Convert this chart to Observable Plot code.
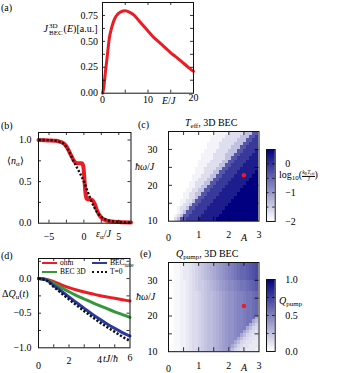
<!DOCTYPE html>
<html><head><meta charset="utf-8">
<script src="https://cdn.jsdelivr.net/npm/d3@7"></script>
<script src="https://cdn.jsdelivr.net/npm/@observablehq/plot@0.6"></script>
<style>
body{margin:0;background:#fff}
#fig{position:relative;width:337px;height:373px;overflow:hidden;font-family:"Liberation Serif","Times New Roman",serif;font-size:10px;color:#000;background:#fff}
.t{position:absolute;white-space:nowrap;line-height:1}
.t sub{font-size:0.7em;vertical-align:-0.3em;line-height:0}
.ss{display:inline-flex;flex-direction:column;font-size:7px;line-height:7px;vertical-align:middle;margin:0 1px}
.frac{display:inline-flex;flex-direction:column;font-size:5.6px;line-height:5.6px;vertical-align:middle;text-align:center}
.frac>span:first-child{border-bottom:0.6px solid #000}
</style></head>
<body><div id="fig"></div>
<script>
// ---------- DATA ----------
// (a) J_BEC^3D(E)
const energy = [0, 0.3, 0.6, 1, 1.5, 2, 2.5, 3, 4, 5, 6, 7, 8, 9, 10, 11, 12.5, 14, 15, 16, 17.5, 19, 20];
const jBEC   = [0, 0.06, 0.19, 0.34, 0.53, 0.63, 0.70, 0.745, 0.785, 0.795, 0.78, 0.75, 0.70, 0.65, 0.60, 0.55, 0.49, 0.43, 0.39, 0.355, 0.30, 0.245, 0.21];
// (b) occupations
const epsRed = [-6.5,-5,-4,-3.5,-3,-2.7,-2.4,-2.1,-1.8,-1.5,-1.2,-0.9,-0.6,-0.3,-0.1,0,0.1,0.2,0.3,0.45,0.7,1.0,1.3,1.6,1.9,2.2,2.6,3,3.5,4,5,6.75];
const nRed   = [1.0,0.995,0.99,0.98,0.965,0.945,0.91,0.86,0.81,0.76,0.73,0.72,0.72,0.72,0.69,0.62,0.50,0.39,0.32,0.29,0.285,0.285,0.27,0.22,0.15,0.10,0.06,0.04,0.027,0.02,0.013,0.008];
const epsFermi = [-6.5,-5,-4,-3.5,-3,-2.5,-2,-1.5,-1,-0.5,0,0.5,1,1.5,2,2.5,3,3.5,4,5,6.75];
const nFermi   = [1.0,0.998,0.99,0.98,0.96,0.915,0.84,0.75,0.67,0.59,0.5,0.39,0.28,0.19,0.12,0.075,0.05,0.035,0.025,0.015,0.008];
// (d) pumped charge
const tVals   = [0, 0.5, 1, 1.5, 2, 2.5, 3, 3.5, 4, 4.5, 5, 5.5, 6];
const qOhm    = [0, -0.01, -0.045, -0.09, -0.13, -0.165, -0.195, -0.22, -0.245, -0.265, -0.285, -0.305, -0.325];
const qBEC3D  = [0, -0.015, -0.07, -0.13, -0.19, -0.245, -0.295, -0.345, -0.39, -0.435, -0.48, -0.52, -0.56];
const qTube   = [0, -0.02, -0.1, -0.18, -0.265, -0.35, -0.43, -0.51, -0.585, -0.655, -0.72, -0.78, -0.83];
const qT0     = [0, -0.025, -0.12, -0.21, -0.30, -0.385, -0.47, -0.55, -0.63, -0.70, -0.77, -0.84, -0.9];
// heat-map grid (A columns, hbar*omega/J rows)
const aCols = [0,0.1,0.2,0.3,0.4,0.5,0.6,0.7,0.8,0.9,1.0,1.1,1.2,1.3,1.4,1.5,1.6,1.7,1.8,1.9,2.0,2.1,2.2,2.3,2.4,2.5,2.6,2.7,2.8,2.9];
const omegaRows = [10,11,12,13,14,15,16,17,18,19,20,21,22,23,24,25,26,27,28,29,30,31,32,33,34];
const aStep = 0.1, omegaStep = 1;
// (c) log10(kB Teff/J): one string per row (omega=10 first), char = level index
const tEffLevels = [-2, -1.88, -1.68, -1.38, -0.89, -0.61, -0.33, -0.06, 0.22, 0.5];
const tEffRows = [
  "0023" + "667777888888" + "99999999999999",
  "00123" + "667777888888" + "9999999999999",
  "000123" + "667777888888" + "999999999999",
  "0001223" + "667777888888" + "99999999999",
  "00001223" + "667777888888" + "9999999999",
  "000011223" + "667777888888" + "999999999",
  "0000011223" + "667777888888" + "99999999",
  "00000" + "112233" + "667777888888" + "9999999",
  "000000" + "112233" + "667777888888" + "999999",
  "0000000" + "112233" + "667777888888" + "99999",
  "0000000" + "1122233" + "667777888888" + "9999",
  "00000000" + "1122233" + "667777888888" + "999",
  "00000000" + "11122233" + "667777888888" + "99",
  "000000000" + "11122233" + "667777888888" + "9",
  "000000000" + "111222233" + "667777888888",
  "0000000000" + "111222233" + "66777788888",
  "0000000000" + "1111222233" + "6677778888",
  "00000000000" + "1111222233" + "667777888",
  "00000000000" + "11112222333" + "66777788",
  "000000000000" + "11112222333" + "6677778",
  "0000000000000" + "11112222333" + "667777",
  "0000000000000" + "111122222333" + "66777",
  "00000000000000" + "111122222333" + "6677",
  "00000000000000" + "1111122222333" + "667",
  "000000000000000" + "1111122222333" + "66"
];
// (e) Q_pump: base-36 level per cell, Q = level/35
const qPumpRows = [
  "0011223455" + "67899abcde" + "c965443332",
  "0011223455" + "67899abcde" + "f" + "c96544333",
  "0011223455" + "67899abcde" + "ff" + "c9654433",
  "0011223455" + "67899abcde" + "ffg" + "c965443",
  "0011223455" + "67899abcde" + "ffgh" + "c96544",
  "0011223455" + "67899abcde" + "ffghh" + "c9654",
  "0011223455" + "67899abcde" + "ffghhi" + "c965",
  "0011223455" + "67899abcde" + "ffghhij" + "c96",
  "0011223455" + "67899abcde" + "ffghhijj" + "c9",
  "0011223455" + "67899abcde" + "ffghhijjk" + "c",
  "0011223455" + "67899abcde" + "ffghhijjkl",
  "0011223455" + "67899abcde" + "ffghhijjkl",
  "0011223455" + "67899abcde" + "ffghhijjkl",
  "0011223455" + "67899abcde" + "ffghhijjkl",
  "0011223455" + "67899abcde" + "ffghhijjkl",
  "0011223455" + "67899abcde" + "ffghhijjkl",
  "0011223455" + "67899abcde" + "ffghhijjkl",
  "0011223456" + "7789abcdef" + "gghijjklmn",
  "0011223456" + "7789abcdef" + "gghijjklmn",
  "0011223456" + "7789abcdef" + "gghijjklmn",
  "0011233456" + "789abcdefg" + "hijkllmnop",
  "0011233456" + "789abcdefg" + "hijkllmnop",
  "0011233456" + "789abcdefg" + "hijkllmnop",
  "0011233456" + "789abcdefg" + "hijkllmnop",
  "0011233456" + "789abcdefg" + "hijkllmnop"
];
const markerA = [2.5], markerOmega = [22.8];

// ---------- HELPERS ----------
const RED = "#ec1c24", GREEN = "#35963a", BLUE = "#2a3a9e";
const FONT = '"Liberation Serif", "Times New Roman", serif';
const fig = document.getElementById("fig");
const baseStyle = {background: "none", overflow: "visible", fontFamily: FONT, fontSize: "10px", color: "#000"};
function put(node, left, top) {
  node.style.position = "absolute"; node.style.left = left + "px"; node.style.top = top + "px";
  fig.appendChild(node);
}
function panel({left, top, w, h, x, y, color, marks, ml = 40, mr = 10, mt = 4, mb = 24}) {
  const svg = Plot.plot({width: w + ml + mr, height: h + mt + mb, marginLeft: ml, marginRight: mr,
    marginTop: mt, marginBottom: mb, x, y, color, style: baseStyle, marks});
  put(svg, left - ml, top - mt);
}
function boxTicks(xt, yt, w, h, len = 3.5) {
  const m = [];
  if (xt.length) m.push(
    Plot.tickX(xt, {x: d => d, insetTop: h - len, strokeWidth: 0.8}),
    Plot.tickX(xt, {x: d => d, insetBottom: h - len, strokeWidth: 0.8}));
  m.push(
    Plot.tickY(yt, {y: d => d, insetRight: w - len, strokeWidth: 0.8}),
    Plot.tickY(yt, {y: d => d, insetLeft: w - len, strokeWidth: 0.8}),
    Plot.frame({stroke: "#111", strokeWidth: 1}));
  return m;
}
const ax = (t, pad, fmt) => Plot.axisX(t, {tickSize: 0, tickPadding: pad, tickFormat: fmt, label: null});
const ay = (t, pad, fmt, anchor = "left") => Plot.axisY(t, {anchor, tickSize: 0, tickPadding: pad, tickFormat: fmt, label: null});
function lab(html, x, cy, anchor = "start", size = 10) {
  const d = document.createElement("div");
  d.className = "t"; d.innerHTML = html;
  d.style.left = x + "px"; d.style.top = cy + "px"; d.style.fontSize = size + "px";
  d.style.transform = `translate(${anchor === "middle" ? -50 : anchor === "end" ? -100 : 0}%, -50%)`;
  fig.appendChild(d);
}
function swatch(x, y, w, color, dotted) {
  const d = document.createElement("div");
  d.style.cssText = `position:absolute;left:${x}px;top:${y - 1.3}px;width:${w}px;height:0;border-top:2.6px ${dotted ? "dotted" : "solid"} ${color}`;
  fig.appendChild(d);
}
function gridCells(rows, decode) {
  const out = [];
  rows.forEach((row, i) => {
    for (let j = 0; j < row.length && j < aCols.length; j++)
      out.push({a: aCols[j], w: omegaRows[i], v: decode(row[j])});
  });
  return out;
}
const cellMark = cells => Plot.rect(cells, {x1: "a", x2: d => d.a + aStep, y1: "w", y2: d => d.w + omegaStep,
  fill: "v", shapeRendering: "crispEdges"});
const dotted = {strokeDasharray: "2.2,1.8", strokeLinecap: "butt", strokeLinejoin: "miter"};

// ---------- (a) ----------
{
  const w = 91, h = 90.7;
  panel({left: 101.5, top: 2, w, h, ml: 40, mt: 2,
    x: {domain: [0, 20]}, y: {domain: [0, 0.875]},
    marks: [
      Plot.line(jBEC, {x: energy, y: jBEC, stroke: RED, strokeWidth: 3, curve: "monotone-x"}),
      ...boxTicks([5, 10, 15], [0.125, 0.25, 0.375, 0.5, 0.625, 0.75], w, h, 3),
      ay([0, 0.25, 0.5, 0.75], 4.5, d3.format(".2f")),
      ax([0, 10], 2.5, d3.format("d")), ax([20], 1, d3.format("d"))
    ]});
  lab("(a)", 1, 7.5);
  lab('<i>J</i><span class="ss"><span>3D</span><span>BEC</span></span>(<i>E</i>)[a.u.]', 97.5, 29.5, "end");
  lab("<i>E</i>/<i>J</i>", 162, 100.5);
}
// ---------- (b) ----------
{
  const w = 92.5, h = 90.7;
  panel({left: 38, top: 132, w, h,
    x: {domain: [-6.5, 6.75]}, y: {domain: [0, 1.09]},
    marks: [
      Plot.line(nRed, {x: epsRed, y: nRed, stroke: RED, strokeWidth: 4, curve: "monotone-x"}),
      Plot.line(nFermi, {x: epsFermi, y: nFermi, stroke: "#111", strokeWidth: 2.4, curve: "monotone-x", ...dotted}),
      ...boxTicks([-5, -2.5, 0, 2.5, 5], [0.25, 0.5, 0.75, 1], w, h, 3),
      ay([0, 0.5, 1], 7, d3.format(".1f")),
      ax([-5, 0, 5], 9.5, d3.format("d"))
    ]});
  lab("(b)", 1, 126);
  lab("⟨<i>n</i><sub>α</sub>⟩", 7, 161);
  lab("<i>ε</i><sub>α</sub>/<i>J</i>", 96, 234);
}
// ---------- (c) ----------
const cColor = {type: "linear", domain: [-2, 0.5], range: ["#ffffff", "#000080"]};
{
  const w = 90.5, h = 89.7;
  panel({left: 168, top: 131, w, h,
    x: {domain: [0, 3]}, y: {domain: [10, 35]}, color: cColor,
    marks: [
      cellMark(gridCells(tEffRows, ch => tEffLevels[+ch])),
      Plot.dot(markerA, {x: markerA, y: markerOmega, r: 2.2, fill: RED}),
      ...boxTicks([0.5, 1, 1.5, 2, 2.5], [15, 20, 25, 30], w, h, 4),
      ay([10, 20, 30], 11, d3.format("d")),
      ax([1, 2, 3], 9.5, d3.format("d")), ax([0], 13, d3.format("d"))
    ]});
  lab("(c)", 138, 125);
  lab("<i>T</i><sub>eff</sub>, 3D BEC", 185, 123);
  lab("<i>ħω</i>/<i>J</i>", 135, 167);
  lab("<i>A</i>", 241, 237.5);
  // colorbar
  const cb = d3.range(-2, 0.5, 0.025);
  panel({left: 265.5, top: 149.3, w: 8.7, h: 72, ml: 2, mr: 30, mt: 4, mb: 6,
    x: {domain: [0, 1], axis: null}, y: {domain: [-2, 0.5]}, color: cColor,
    marks: [
      Plot.rect(cb, {x1: 0, x2: 1, y1: d => d, y2: d => d + 0.05, fill: d => d + 0.0125, clip: true}),
      ...boxTicks([], [-1.5, -1, -0.5, 0], 8.7, 72, 2.5),
      ay([0, -1, -2], 10, d3.format("d"), "right")
    ]});
  lab('log<sub>10</sub>(<span class="frac"><span><i>k</i><sub>B</sub><i>T</i><sub>eff</sub></span><span><i>J</i></span></span>)', 279, 176);
}
// ---------- (d) ----------
{
  const w = 91.5, h = 89.3;
  panel({left: 38, top: 258, w, h,
    x: {domain: [0, 6]}, y: {domain: [-1, 0.29]},
    marks: [
      Plot.line(qOhm, {x: tVals, y: qOhm, stroke: RED, strokeWidth: 3, curve: "monotone-x"}),
      Plot.line(qBEC3D, {x: tVals, y: qBEC3D, stroke: GREEN, strokeWidth: 3, curve: "monotone-x"}),
      Plot.line(qTube, {x: tVals, y: qTube, stroke: BLUE, strokeWidth: 3, curve: "monotone-x"}),
      Plot.line(qT0, {x: tVals, y: qT0, stroke: "#111", strokeWidth: 2.6, curve: "monotone-x", ...dotted}),
      ...boxTicks([1, 2, 3, 4, 5], [-0.75, -0.5, -0.25, 0, 0.25], w, h, 3),
      ay([0, -0.5, -1], 7, d3.format(".1f")),
      ax([0], 14, d3.format("d")), ax([2], 9, d3.format("d")), ax([4], 7.7, d3.format("d")), ax([6], 6.5, d3.format("d"))
    ]});
  lab("(d)", 1, 256);
  lab("Δ<i>Q</i><sub>u</sub>(<i>t</i>)", 2, 294);
  lab("<i>tJ</i>/<i>ħ</i>", 103, 358.5);
  swatch(42, 263, 15, RED); lab("ohm", 60, 263, "start", 7.5);
  swatch(92, 263, 15, BLUE); lab("BEC<sub>tube</sub>", 110, 263, "start", 7.5);
  swatch(42, 272, 15, GREEN); lab("BEC 3D", 60, 272, "start", 7.5);
  swatch(92, 272, 15, "#111", true); lab("T=0", 110, 272, "start", 7.5);
}
// ---------- (e) ----------
const eColor = {type: "linear", domain: [0, 1], range: ["#ffffff", "#000080"]};
{
  const w = 90.5, h = 89.2;
  panel({left: 168, top: 261.5, w, h,
    x: {domain: [0, 3]}, y: {domain: [10, 35]}, color: eColor,
    marks: [
      cellMark(gridCells(qPumpRows, ch => parseInt(ch, 36) / 35)),
      Plot.dot(markerA, {x: markerA, y: markerOmega, r: 2.2, fill: RED}),
      ...boxTicks([0.5, 1, 1.5, 2, 2.5], [15, 20, 25, 30], w, h, 4),
      ay([10, 20, 30], 11, d3.format("d")),
      ax([1, 2, 3], 10, d3.format("d")), ax([0], 13.5, d3.format("d"))
    ]});
  lab("(e)", 140, 254);
  lab("<i>Q</i><sub>pump</sub>, 3D BEC", 176, 254);
  lab("<i>ħω</i>/<i>J</i>", 136, 297);
  lab("<i>A</i>", 241, 367.5);
  const cb = d3.range(0, 1, 0.01);
  panel({left: 265.5, top: 279.3, w: 8.7, h: 72, ml: 2, mr: 30, mt: 4, mb: 6,
    x: {domain: [0, 1], axis: null}, y: {domain: [0, 1]}, color: eColor,
    marks: [
      Plot.rect(cb, {x1: 0, x2: 1, y1: d => d, y2: d => d + 0.02, fill: d => d + 0.005, clip: true}),
      ...boxTicks([], [0.25, 0.5, 0.75], 8.7, 72, 2.5),
      ay([0, 0.5, 1], 10, d3.format(".1f"), "right")
    ]});
  lab("<i>Q</i><sub>pump</sub>", 279, 301);
}
</script></body></html>
